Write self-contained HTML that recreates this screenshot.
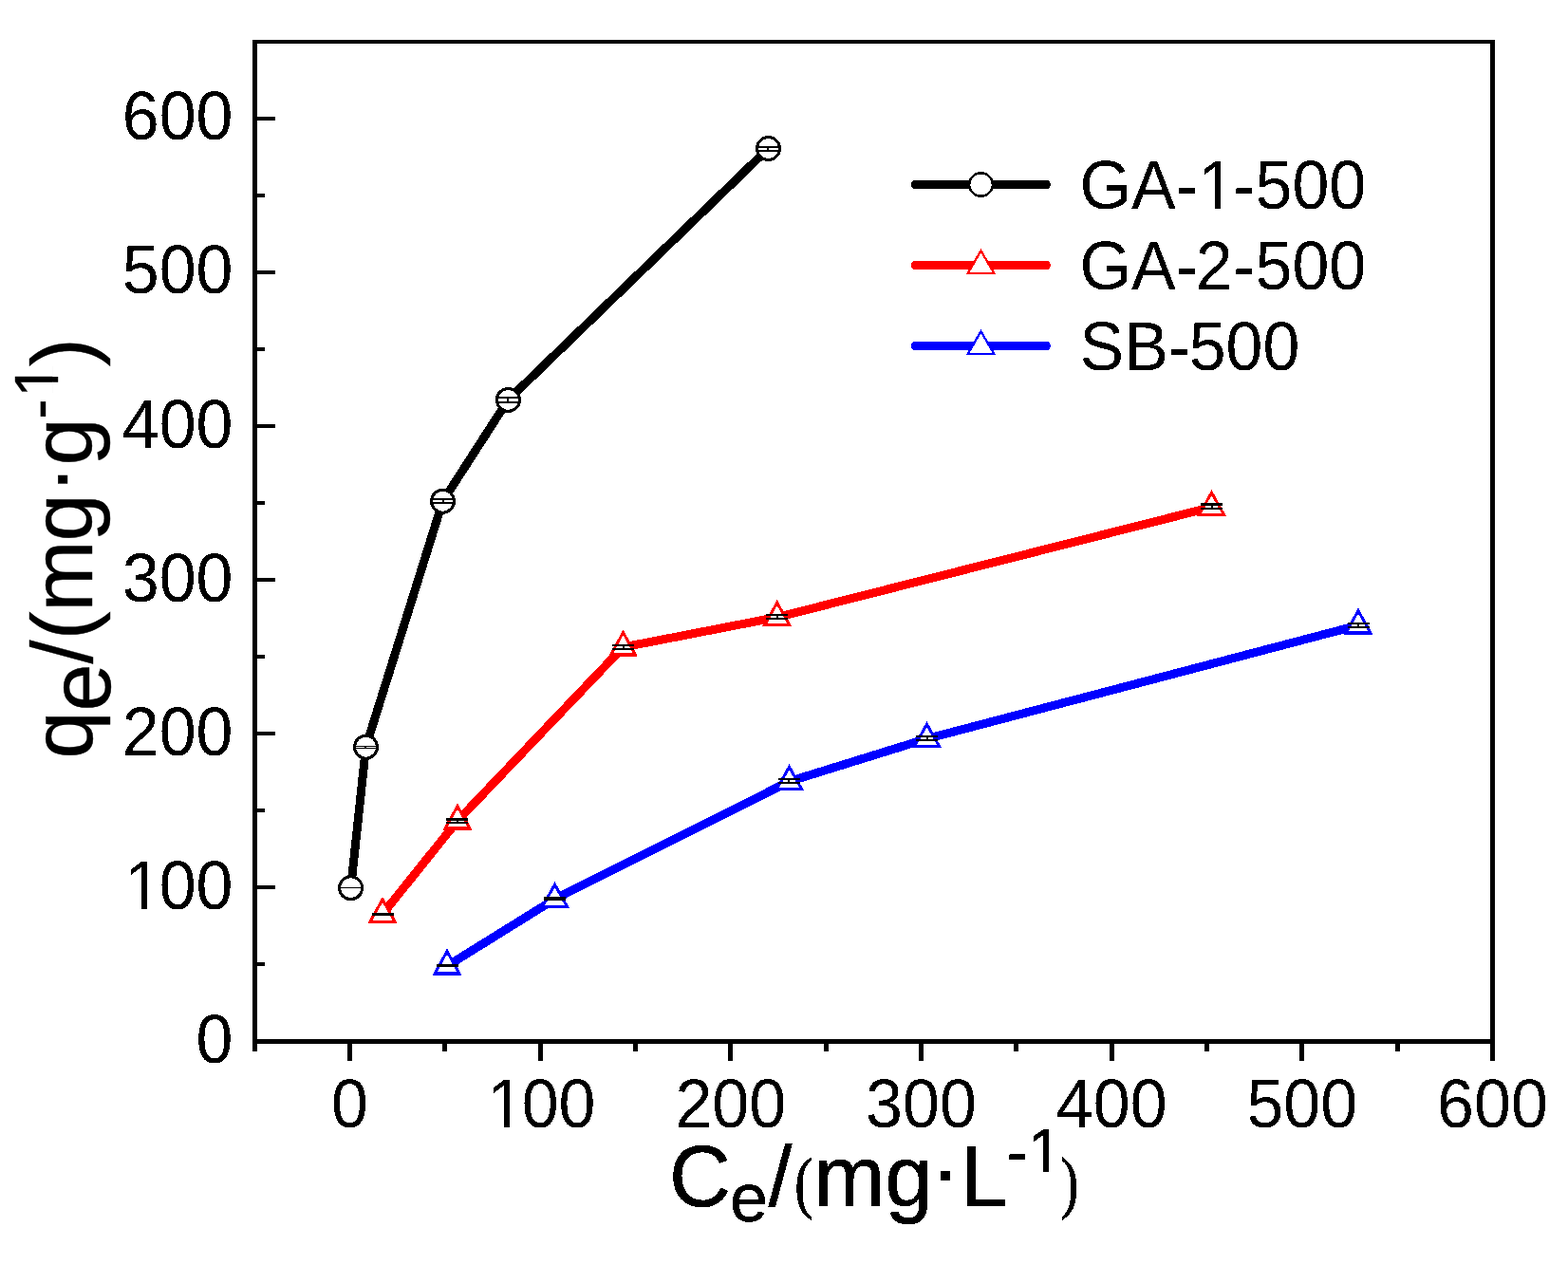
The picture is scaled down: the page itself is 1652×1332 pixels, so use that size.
<!DOCTYPE html>
<html lang="en"><head><meta charset="utf-8"><title>Adsorption isotherms</title>
<style>html,body{margin:0;padding:0;background:#fff}body{width:1652px;height:1332px;overflow:hidden}svg{display:block}text{font-family:"Liberation Sans",Arial,Helvetica,sans-serif;fill:#000}</style>
</head><body>
<svg width="1652" height="1332" viewBox="0 0 1652 1332">
<defs><filter id="crisp" filterUnits="userSpaceOnUse" x="0" y="0" width="1652" height="1332" color-interpolation-filters="sRGB"><feComponentTransfer><feFuncR type="discrete" tableValues="0 1"/><feFuncG type="discrete" tableValues="0 1"/><feFuncB type="discrete" tableValues="0 1"/></feComponentTransfer></filter>
<clipPath id="k1" clipPathUnits="userSpaceOnUse"><path clip-rule="evenodd" d="M-20,-120h700v200h-700ZM5.12,-6.30H19.93V2.80H5.12ZM26.11,-6.30H39.42V2.80H26.11Z"/></clipPath>
<clipPath id="k2" clipPathUnits="userSpaceOnUse"><path clip-rule="evenodd" d="M-20,-120h700v200h-700ZM5.12,-6.30H19.93V2.80H5.12ZM26.11,-6.30H39.42V2.80H26.11Z"/></clipPath>
<clipPath id="k3" clipPathUnits="userSpaceOnUse"><path clip-rule="evenodd" d="M-20,-120h700v200h-700ZM127.55,-6.30H142.35V2.80H127.55ZM148.53,-6.30H161.85V2.80H148.53Z"/></clipPath>
<clipPath id="k4" clipPathUnits="userSpaceOnUse"><path transform="translate(705,1235)" clip-rule="evenodd" d="M-20,-120h700v200h-700ZM380.60,-5.85H394.35V2.60H380.60ZM400.09,-5.85H412.45V2.60H400.09Z"/></clipPath>
<clipPath id="k5" clipPathUnits="userSpaceOnUse"><path transform="translate(0,-36)" clip-rule="evenodd" d="M-20,-120h700v200h-700ZM383.31,-5.76H396.85V2.56H383.31ZM402.50,-5.76H414.67V2.56H402.50Z"/></clipPath>
</defs>
<g filter="url(#crisp)">
<rect x="0" y="0" width="1652" height="1332" fill="#fff"/>
<g shape-rendering="crispEdges" fill="#000">
<rect x="266" y="42" width="5" height="1058"/>
<rect x="1570" y="42" width="5" height="1076"/>
<rect x="266" y="42" width="1309" height="4"/>
<rect x="266" y="1095" width="1309" height="5"/>
<rect x="266" y="1095" width="24" height="4"/>
<rect x="266" y="1014" width="13" height="4"/>
<rect x="266" y="933" width="24" height="4"/>
<rect x="266" y="852" width="13" height="4"/>
<rect x="266" y="771" width="24" height="4"/>
<rect x="266" y="690" width="13" height="4"/>
<rect x="266" y="609" width="24" height="4"/>
<rect x="266" y="528" width="13" height="4"/>
<rect x="266" y="447" width="24" height="4"/>
<rect x="266" y="366" width="13" height="4"/>
<rect x="266" y="285" width="24" height="4"/>
<rect x="266" y="204" width="13" height="4"/>
<rect x="266" y="123" width="24" height="4"/>
<rect x="266" y="1095" width="5" height="13"/>
<rect x="366" y="1095" width="5" height="23"/>
<rect x="466" y="1095" width="5" height="13"/>
<rect x="567" y="1095" width="5" height="23"/>
<rect x="667" y="1095" width="5" height="13"/>
<rect x="767" y="1095" width="5" height="23"/>
<rect x="868" y="1095" width="5" height="13"/>
<rect x="968" y="1095" width="5" height="23"/>
<rect x="1068" y="1095" width="5" height="13"/>
<rect x="1169" y="1095" width="5" height="23"/>
<rect x="1269" y="1095" width="5" height="13"/>
<rect x="1369" y="1095" width="5" height="23"/>
<rect x="1470" y="1095" width="5" height="13"/>
</g>
<g font-size="70">
<text transform="translate(206.57,1119.8) scale(1,1.030)">0</text>
<text transform="translate(128.71,957.7) scale(1,1.030)" dx="2.32,-2.32" clip-path="url(#k1)">100</text>
<text transform="translate(128.71,795.6) scale(1,1.030)">200</text>
<text transform="translate(128.71,633.6) scale(1,1.030)">300</text>
<text transform="translate(128.71,471.5) scale(1,1.030)">400</text>
<text transform="translate(128.71,309.4) scale(1,1.030)">500</text>
<text transform="translate(128.71,147.3) scale(1,1.030)">600</text>
<text transform="translate(349.03,1187.5) scale(1,1.030)">0</text>
<text transform="translate(510.77,1187.5) scale(1,1.030)" dx="2.32,-2.32" clip-path="url(#k2)">100</text>
<text transform="translate(711.44,1187.5) scale(1,1.030)">200</text>
<text transform="translate(912.11,1187.5) scale(1,1.030)">300</text>
<text transform="translate(1112.78,1187.5) scale(1,1.030)">400</text>
<text transform="translate(1313.45,1187.5) scale(1,1.030)">500</text>
<text transform="translate(1514.12,1187.5) scale(1,1.030)">600</text>
</g>
<polyline points="369.6,935.7 385.5,787.2 466.5,528.2 535.4,421.4 809.5,156.5" fill="none" stroke="#000" stroke-width="9" stroke-linejoin="round" shape-rendering="crispEdges"/>
<circle cx="369.6" cy="935.7" r="12.0" fill="#fff" stroke="#000" stroke-width="3.0"/>
<g fill="#000" shape-rendering="crispEdges"><rect x="358" y="935" width="23" height="1"/></g>
<circle cx="385.5" cy="787.2" r="12.0" fill="#fff" stroke="#000" stroke-width="3.0"/>
<g fill="#000" shape-rendering="crispEdges"><rect x="374" y="786" width="23" height="1"/><rect x="374" y="788" width="23" height="1"/><rect x="384" y="787" width="2" height="1"/></g>
<circle cx="466.5" cy="528.2" r="12.0" fill="#fff" stroke="#000" stroke-width="3.0"/>
<g fill="#000" shape-rendering="crispEdges"><rect x="455" y="525" width="23" height="2"/><rect x="455" y="529" width="23" height="2"/><rect x="466" y="527" width="2" height="2"/></g>
<circle cx="535.4" cy="421.4" r="12.0" fill="#fff" stroke="#000" stroke-width="3.0"/>
<g fill="#000" shape-rendering="crispEdges"><rect x="524" y="418" width="23" height="2"/><rect x="524" y="423" width="23" height="2"/><rect x="534" y="420" width="2" height="3"/></g>
<circle cx="809.5" cy="156.5" r="12.0" fill="#fff" stroke="#000" stroke-width="3.0"/>
<g fill="#000" shape-rendering="crispEdges"><rect x="798" y="154" width="23" height="2"/><rect x="798" y="158" width="23" height="2"/><rect x="808" y="156" width="2" height="2"/></g>
<polyline points="403.0,963.3 482.0,865.0 656.5,682.0 818.7,650.5 1276.5,534.5" fill="none" stroke="#f00" stroke-width="9" stroke-linejoin="round" shape-rendering="crispEdges"/>
<polygon points="403.0,947.8 416.0,971.3 390.0,971.3" fill="#fff" stroke="#f00" stroke-width="3" stroke-linejoin="miter"/>
<g fill="#000" shape-rendering="crispEdges"><rect x="392" y="962" width="23" height="3"/></g>
<polygon points="482.0,849.5 495.0,873.0 469.0,873.0" fill="#fff" stroke="#f00" stroke-width="3" stroke-linejoin="miter"/>
<g fill="#000" shape-rendering="crispEdges"><rect x="470" y="862" width="23" height="3"/><rect x="470" y="866" width="23" height="2"/><rect x="481" y="865" width="2" height="1"/></g>
<polygon points="656.5,666.5 669.5,690.0 643.5,690.0" fill="#fff" stroke="#f00" stroke-width="3" stroke-linejoin="miter"/>
<g fill="#000" shape-rendering="crispEdges"><rect x="645" y="679" width="23" height="2"/><rect x="645" y="683" width="23" height="2"/><rect x="656" y="681" width="2" height="2"/></g>
<polygon points="818.7,635.0 831.7,658.5 805.7,658.5" fill="#fff" stroke="#f00" stroke-width="3" stroke-linejoin="miter"/>
<g fill="#000" shape-rendering="crispEdges"><rect x="807" y="647" width="23" height="2"/><rect x="807" y="651" width="23" height="2"/><rect x="818" y="649" width="2" height="2"/></g>
<polygon points="1276.5,519.0 1289.5,542.5 1263.5,542.5" fill="#fff" stroke="#f00" stroke-width="3" stroke-linejoin="miter"/>
<g fill="#000" shape-rendering="crispEdges"><rect x="1265" y="530" width="23" height="3"/><rect x="1265" y="535" width="23" height="2"/><rect x="1276" y="533" width="2" height="2"/></g>
<polyline points="471.0,1018.0 584.5,947.5 831.5,823.5 976.5,778.5 1431.0,659.0" fill="none" stroke="#00f" stroke-width="9" stroke-linejoin="round" shape-rendering="crispEdges"/>
<polygon points="471.0,1002.5 484.0,1026.0 458.0,1026.0" fill="#fff" stroke="#00f" stroke-width="3" stroke-linejoin="miter"/>
<g fill="#000" shape-rendering="crispEdges"><rect x="460" y="1016" width="23" height="3"/></g>
<polygon points="584.5,932.0 597.5,955.5 571.5,955.5" fill="#fff" stroke="#00f" stroke-width="3" stroke-linejoin="miter"/>
<g fill="#000" shape-rendering="crispEdges"><rect x="573" y="945" width="23" height="4"/></g>
<polygon points="831.5,808.0 844.5,831.5 818.5,831.5" fill="#fff" stroke="#00f" stroke-width="3" stroke-linejoin="miter"/>
<g fill="#000" shape-rendering="crispEdges"><rect x="820" y="820" width="23" height="2"/><rect x="820" y="824" width="23" height="2"/><rect x="830" y="822" width="2" height="2"/></g>
<polygon points="976.5,763.0 989.5,786.5 963.5,786.5" fill="#fff" stroke="#00f" stroke-width="3" stroke-linejoin="miter"/>
<g fill="#000" shape-rendering="crispEdges"><rect x="965" y="775" width="23" height="2"/><rect x="965" y="779" width="23" height="2"/><rect x="976" y="777" width="2" height="2"/></g>
<polygon points="1431.0,643.5 1444.0,667.0 1418.0,667.0" fill="#fff" stroke="#00f" stroke-width="3" stroke-linejoin="miter"/>
<g fill="#000" shape-rendering="crispEdges"><rect x="1420" y="656" width="23" height="2"/><rect x="1420" y="660" width="23" height="2"/><rect x="1430" y="658" width="2" height="2"/></g>
<line x1="964.5" y1="194.5" x2="1102.5" y2="194.5" stroke="#000" stroke-width="9" stroke-linecap="round"/>
<circle cx="1033.5" cy="194.5" r="12.3" fill="#fff" stroke="#000" stroke-width="2.4"/>
<text transform="translate(1137.5,219.8) scale(1,1.030)" font-size="70" dx="0,0,0,0.3,-2,0,0,0" clip-path="url(#k3)">GA-1-500</text>
<line x1="964.5" y1="279.5" x2="1102.5" y2="279.5" stroke="#f00" stroke-width="9" stroke-linecap="round"/>
<polygon points="1033.5,264.1 1047.1,287.8 1019.9,287.8" fill="#fff" stroke="#f00" stroke-width="2.3" stroke-linejoin="miter"/>
<text transform="translate(1137.5,304.8) scale(1,1.030)" font-size="70" dx="0,0,0,-2.2,0.5,0,0,0">GA-2-500</text>
<line x1="964.5" y1="364.5" x2="1102.5" y2="364.5" stroke="#00f" stroke-width="9" stroke-linecap="round"/>
<polygon points="1033.5,349.1 1047.1,372.8 1019.9,372.8" fill="#fff" stroke="#00f" stroke-width="2.3" stroke-linejoin="miter"/>
<text transform="translate(1137.5,389.8) scale(1,1.030)" font-size="70" dx="0,0,0,-1.5,0,0">SB-500</text>
<text y="1271" font-size="90" stroke="#000" stroke-width="0.6" clip-path="url(#k4)"><tspan x="705">C</tspan><tspan x="769" dy="15.5" font-size="72">e</tspan><tspan x="809.5" dy="-15.5">/</tspan><tspan x="837.2" dy="-1" font-family="Liberation Serif,serif" font-size="71" textLength="18.9" lengthAdjust="spacingAndGlyphs" stroke="#000" stroke-width="1">(</tspan><tspan x="857.5" dy="1">mg</tspan><tspan x="981" dy="-7.2">·</tspan><tspan x="1012" dy="7.2">L</tspan><tspan x="1060.4" dy="-34" font-size="67">-</tspan><tspan x="1083" dy="-2" font-size="65">1</tspan><tspan x="1117.4" dy="35" font-family="Liberation Serif,serif" font-size="71" textLength="18.9" lengthAdjust="spacingAndGlyphs" stroke="#000" stroke-width="1">)</tspan></text>
</g>
<text transform="translate(97,799.5) rotate(-90)" font-size="90" stroke="#000" stroke-width="0.4" clip-path="url(#k5)">q<tspan dy="19">e</tspan><tspan dy="-19">/(m</tspan><tspan dx="-1">g</tspan><tspan dy="-6">·</tspan><tspan dy="6">g</tspan><tspan font-size="64" dy="-34" dx="-1.5">-</tspan><tspan x="380.75" font-size="64" dy="-2">1</tspan><tspan dy="36" dx="-3.2">)</tspan></text>
</svg>
</body></html>
